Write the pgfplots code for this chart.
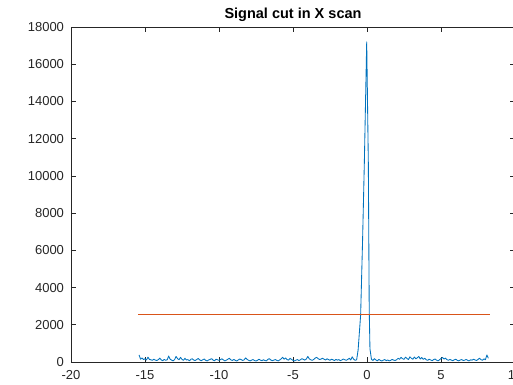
\documentclass[border=0pt]{standalone}
\usepackage{pgfplots}
\pgfplotsset{compat=1.18}
\usepackage{fontspec}
\setmainfont{Liberation Sans}
\definecolor{mblue}{RGB}{0,114,189}
\definecolor{morange}{RGB}{217,83,25}
\definecolor{axgray}{RGB}{38,38,38}
\begin{document}
\begin{tikzpicture}
\path[use as bounding box] (-71pt,-22pt) rectangle (442pt,362pt);
\begin{axis}[
  at={(0,0)}, anchor=south west,
  scale only axis, width=444pt, height=335pt,
  xmin=-20, xmax=10, ymin=0, ymax=18000,
  xtick={-20,-15,...,10}, ytick={0,2000,...,18000},
  scaled y ticks=false,
  /pgf/number format/assume math mode=true,
  /pgf/number format/fixed, /pgf/number format/1000 sep={},
  tick align=inside, major tick length=5pt,
  every tick/.style={axgray, line width=0.6pt},
  axis line style={axgray, line width=0.6pt},
  ticklabel style={font=\fontsize{13}{15}\selectfont, text=axgray},
  xticklabel style={yshift=-5pt},
  yticklabel style={xshift=-3.5pt},
  title={Signal cut in X scan},
  title style={font=\fontsize{14.5}{16}\selectfont\bfseries, yshift=-4pt},
]
\addplot[color=mblue, line width=0.85pt, line join=round, mark=none] coordinates {
(-15.4,380) (-15.3,150) (-15.2,220) (-15.1,130) (-15.0,170) (-14.9,110) (-14.8,260) (-14.7,140) (-14.6,120) (-14.5,90)
(-14.4,150) (-14.3,100) (-14.2,80) (-14.1,130) (-14.0,210) (-13.9,110) (-13.8,70) (-13.7,140) (-13.6,90) (-13.5,120)
(-13.4,320) (-13.3,150) (-13.2,100) (-13.1,60) (-13.0,130) (-12.9,300) (-12.8,180) (-12.7,120) (-12.6,250) (-12.5,140)
(-12.4,90) (-12.3,200) (-12.2,110) (-12.1,130) (-12.0,60) (-11.9,150) (-11.8,170) (-11.7,100) (-11.6,80) (-11.5,140)
(-11.4,190) (-11.3,110) (-11.2,70) (-11.1,120) (-11.0,160) (-10.9,90) (-10.8,60) (-10.7,110) (-10.6,140) (-10.5,180)
(-10.4,100) (-10.3,70) (-10.2,150) (-10.1,120) (-10.0,90) (-9.9,130) (-9.8,170) (-9.7,110) (-9.6,60) (-9.5,100)
(-9.4,150) (-9.3,200) (-9.2,120) (-9.1,80) (-9.0,140) (-8.9,90) (-8.8,50) (-8.7,110) (-8.6,160) (-8.5,130)
(-8.4,80) (-8.3,120) (-8.2,220) (-8.1,140) (-8.0,90) (-7.9,60) (-7.8,100) (-7.7,130) (-7.6,80) (-7.5,50)
(-7.4,90) (-7.3,150) (-7.2,100) (-7.1,70) (-7.0,120) (-6.9,80) (-6.8,60) (-6.7,140) (-6.6,180) (-6.5,110)
(-6.4,70) (-6.3,100) (-6.2,130) (-6.1,90) (-6.0,60) (-5.9,110) (-5.8,170) (-5.7,250) (-5.6,150) (-5.5,220)
(-5.4,130) (-5.3,100) (-5.2,200) (-5.1,140) (-5.0,90) (-4.9,60) (-4.8,100) (-4.7,130) (-4.6,80) (-4.5,120)
(-4.4,180) (-4.3,140) (-4.2,100) (-4.1,160) (-4.0,300) (-3.9,170) (-3.8,120) (-3.7,90) (-3.6,140) (-3.5,210)
(-3.4,250) (-3.3,180) (-3.2,130) (-3.1,160) (-3.0,200) (-2.9,150) (-2.8,110) (-2.7,170) (-2.6,130) (-2.5,90)
(-2.4,150) (-2.3,120) (-2.2,80) (-2.1,140) (-2.0,100) (-1.9,130) (-1.8,70) (-1.7,110) (-1.6,160) (-1.5,120)
(-1.4,90) (-1.3,140) (-1.2,200) (-1.1,110) (-1.0,280) (-0.9,150) (-0.8,90)
(-0.7,120) (-0.6,650) (-0.43,2530) (-0.3,6500) (-0.18,10700) (-0.02,17200) (0.09,10700) (0.15,2800) (0.2,700) (0.3,150)
(0.4,80) (0.5,180) (0.6,110) (0.7,60) (0.8,140) (0.9,90) (1.0,50) (1.1,100) (1.2,130) (1.3,70)
(1.4,110) (1.5,60) (1.6,90) (1.7,140) (1.8,100) (1.9,80) (2.0,120) (2.1,200) (2.2,150) (2.3,250)
(2.4,180) (2.5,140) (2.6,260) (2.7,190) (2.8,130) (2.9,280) (3.0,200) (3.1,150) (3.2,270) (3.3,170)
(3.4,230) (3.5,300) (3.6,160) (3.7,240) (3.8,140) (3.9,200) (4.0,120) (4.1,90) (4.2,150) (4.3,110)
(4.4,70) (4.5,130) (4.6,160) (4.7,100) (4.8,60) (4.9,120) (5.0,190) (5.1,240) (5.2,160) (5.3,210)
(5.4,130) (5.5,90) (5.6,140) (5.7,100) (5.8,70) (5.9,120) (6.0,150) (6.1,90) (6.2,60) (6.3,110)
(6.4,130) (6.5,80) (6.6,100) (6.7,140) (6.8,90) (6.9,60) (7.0,120) (7.1,100) (7.2,150) (7.3,110)
(7.4,80) (7.5,140) (7.6,200) (7.7,130) (7.8,90) (7.9,170) (8.0,120) (8.1,380) (8.2,200)
};
\addplot[color=morange, line width=0.85pt, mark=none] coordinates {(-15.45,2530) (8.3,2530)};
\end{axis}
\end{tikzpicture}
\end{document}
